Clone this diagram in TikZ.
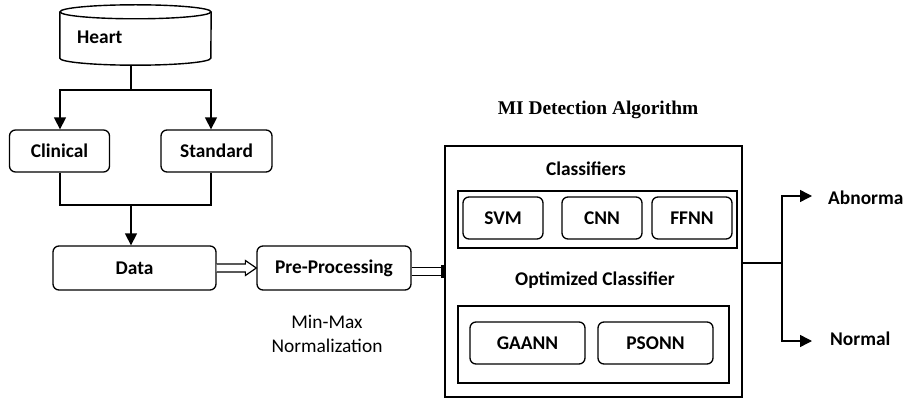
\documentclass[tikz,border=0pt]{standalone}
\usepackage{fontspec}
\setmainfont{Carlito}
\newfontfamily\titlefont{Liberation Serif}
\usetikzlibrary{arrows.meta,calc}
\begin{document}
\begin{tikzpicture}[x=1pt,y=-1pt,
  every node/.style={font=\fontsize{19.4}{23}\selectfont\bfseries, inner sep=0pt},
  rbox/.style={draw, rounded corners=6pt, line width=1.3pt},
  frame/.style={draw, line width=1.4pt},
  thickframe/.style={draw, line width=2.6pt},
  conn/.style={line width=1.4pt},
  arr/.style={conn, -{Triangle[length=12pt,width=12pt]}},
  plain/.style={font=\fontsize{19.4}{24}\selectfont}
]
\useasboundingbox (0,0) rectangle (904,398);
% Heart cylinder
\node (heart) [minimum width=151pt, minimum height=46pt] at (135.5,35) {};
\draw[conn, fill=white] (heart.north west) -- (heart.south west)
  arc[start angle=180, end angle=360, x radius=75.5pt, y radius=7pt]
  -- (heart.north east);
\draw[conn] (heart.north) ellipse[x radius=75.5pt, y radius=7pt];
\node[anchor=west] (hearttxt) at (77,37) {Heart};
\coordinate (hb) at (131,65);
% Clinical, Standard
\node (clin) [rbox, minimum width=100pt, minimum height=42pt] at (59.5,151) {Clinical};
\node (std) [rbox, minimum width=111pt, minimum height=42pt] at (216.5,151) {Standard};
\coordinate (split) at (131,90);
\draw[conn] (hb) -- (split);
\draw[arr] (split) -| ($(clin.north)+(0.5,0)$);
\draw[arr] (split) -| ($(std.north)+(-5.5,0)$);
% Data
\node (data) [rbox, minimum width=163pt, minimum height=44pt] at (134.5,268) {Data};
\node (pre) [rbox, minimum width=154pt, minimum height=44pt] at (334,268) {Pre-Processing};
\coordinate (join) at (131,205);
\draw[conn] ($(clin.south)+(0.5,0)$) |- (join) -| ($(std.south)+(-5.5,0)$);
\draw[arr] (join) -- (join |- data.north);
% hollow arrow data -> pre
\draw[line width=1.2pt, fill=white]
  ($(data.east)+(0,-4)$) -- ($(pre.west)+(-11,-4)$) -- ($(pre.west)+(-11,-7.5)$)
  -- (pre.west) -- ($(pre.west)+(-11,7.5)$) -- ($(pre.west)+(-11,4)$)
  -- ($(data.east)+(0,4)$);
\node[plain, align=center] (norm) at (327,334) {Min-Max\\Normalization};
% MI detection box
\node[font=\fontsize{19.4}{23}\selectfont\bfseries\titlefont] (title) at (598,110) {MI Detection Algorithm};
\node (mi) [frame, minimum width=297pt, minimum height=251pt] at (593.5,271.5) {};
% pre -> box double line
\draw[line width=1.2pt] ($(pre.east)+(0,-0.5)$) -- ($(mi.west |- pre.east)+(0,-0.5)$);
\draw[line width=1.2pt] ($(pre.east)+(0,7.5)$) -- ($(mi.west |- pre.east)+(0,7.5)$);
\draw[line width=3pt] ($(mi.west |- pre.east)+(-1.5,-3)$) -- ($(mi.west |- pre.east)+(-1.5,10)$);
\node (cls) at (586,169) {Classifiers};
\node (ib1) [thickframe, minimum width=279pt, minimum height=57pt] at (597.5,219.5) {};
\node (svm) [rbox, minimum width=80pt, minimum height=42pt] at (503,218) {SVM};
\node (cnn) [rbox, minimum width=80pt, minimum height=42pt] at (602,218) {CNN};
\node (ffnn) [rbox, minimum width=80pt, minimum height=42pt] at (692,218) {FFNN};
\node (opt) at (595,280) {Optimized Classifier};
\node (ib2) [thickframe, minimum width=271pt, minimum height=77pt] at (593.5,344.5) {};
\node (ga) [rbox, minimum width=115pt, minimum height=42pt] at (527.5,343) {GAANN};
\node (pso) [rbox, minimum width=115pt, minimum height=42pt] at (655.5,343) {PSONN};
% outputs
\coordinate (out) at (782,263);
\node[anchor=west] (abn) at (828,198) {Abnormal};
\node[anchor=west] (nor) at (830,339) {Normal};
\draw[conn] (mi.east |- out) -- (out);
\draw[arr] (out) |- ($(abn.west)+(-16,-2)$);
\draw[arr] (out) |- ($(nor.west)+(-18,2)$);
\end{tikzpicture}
\end{document}
